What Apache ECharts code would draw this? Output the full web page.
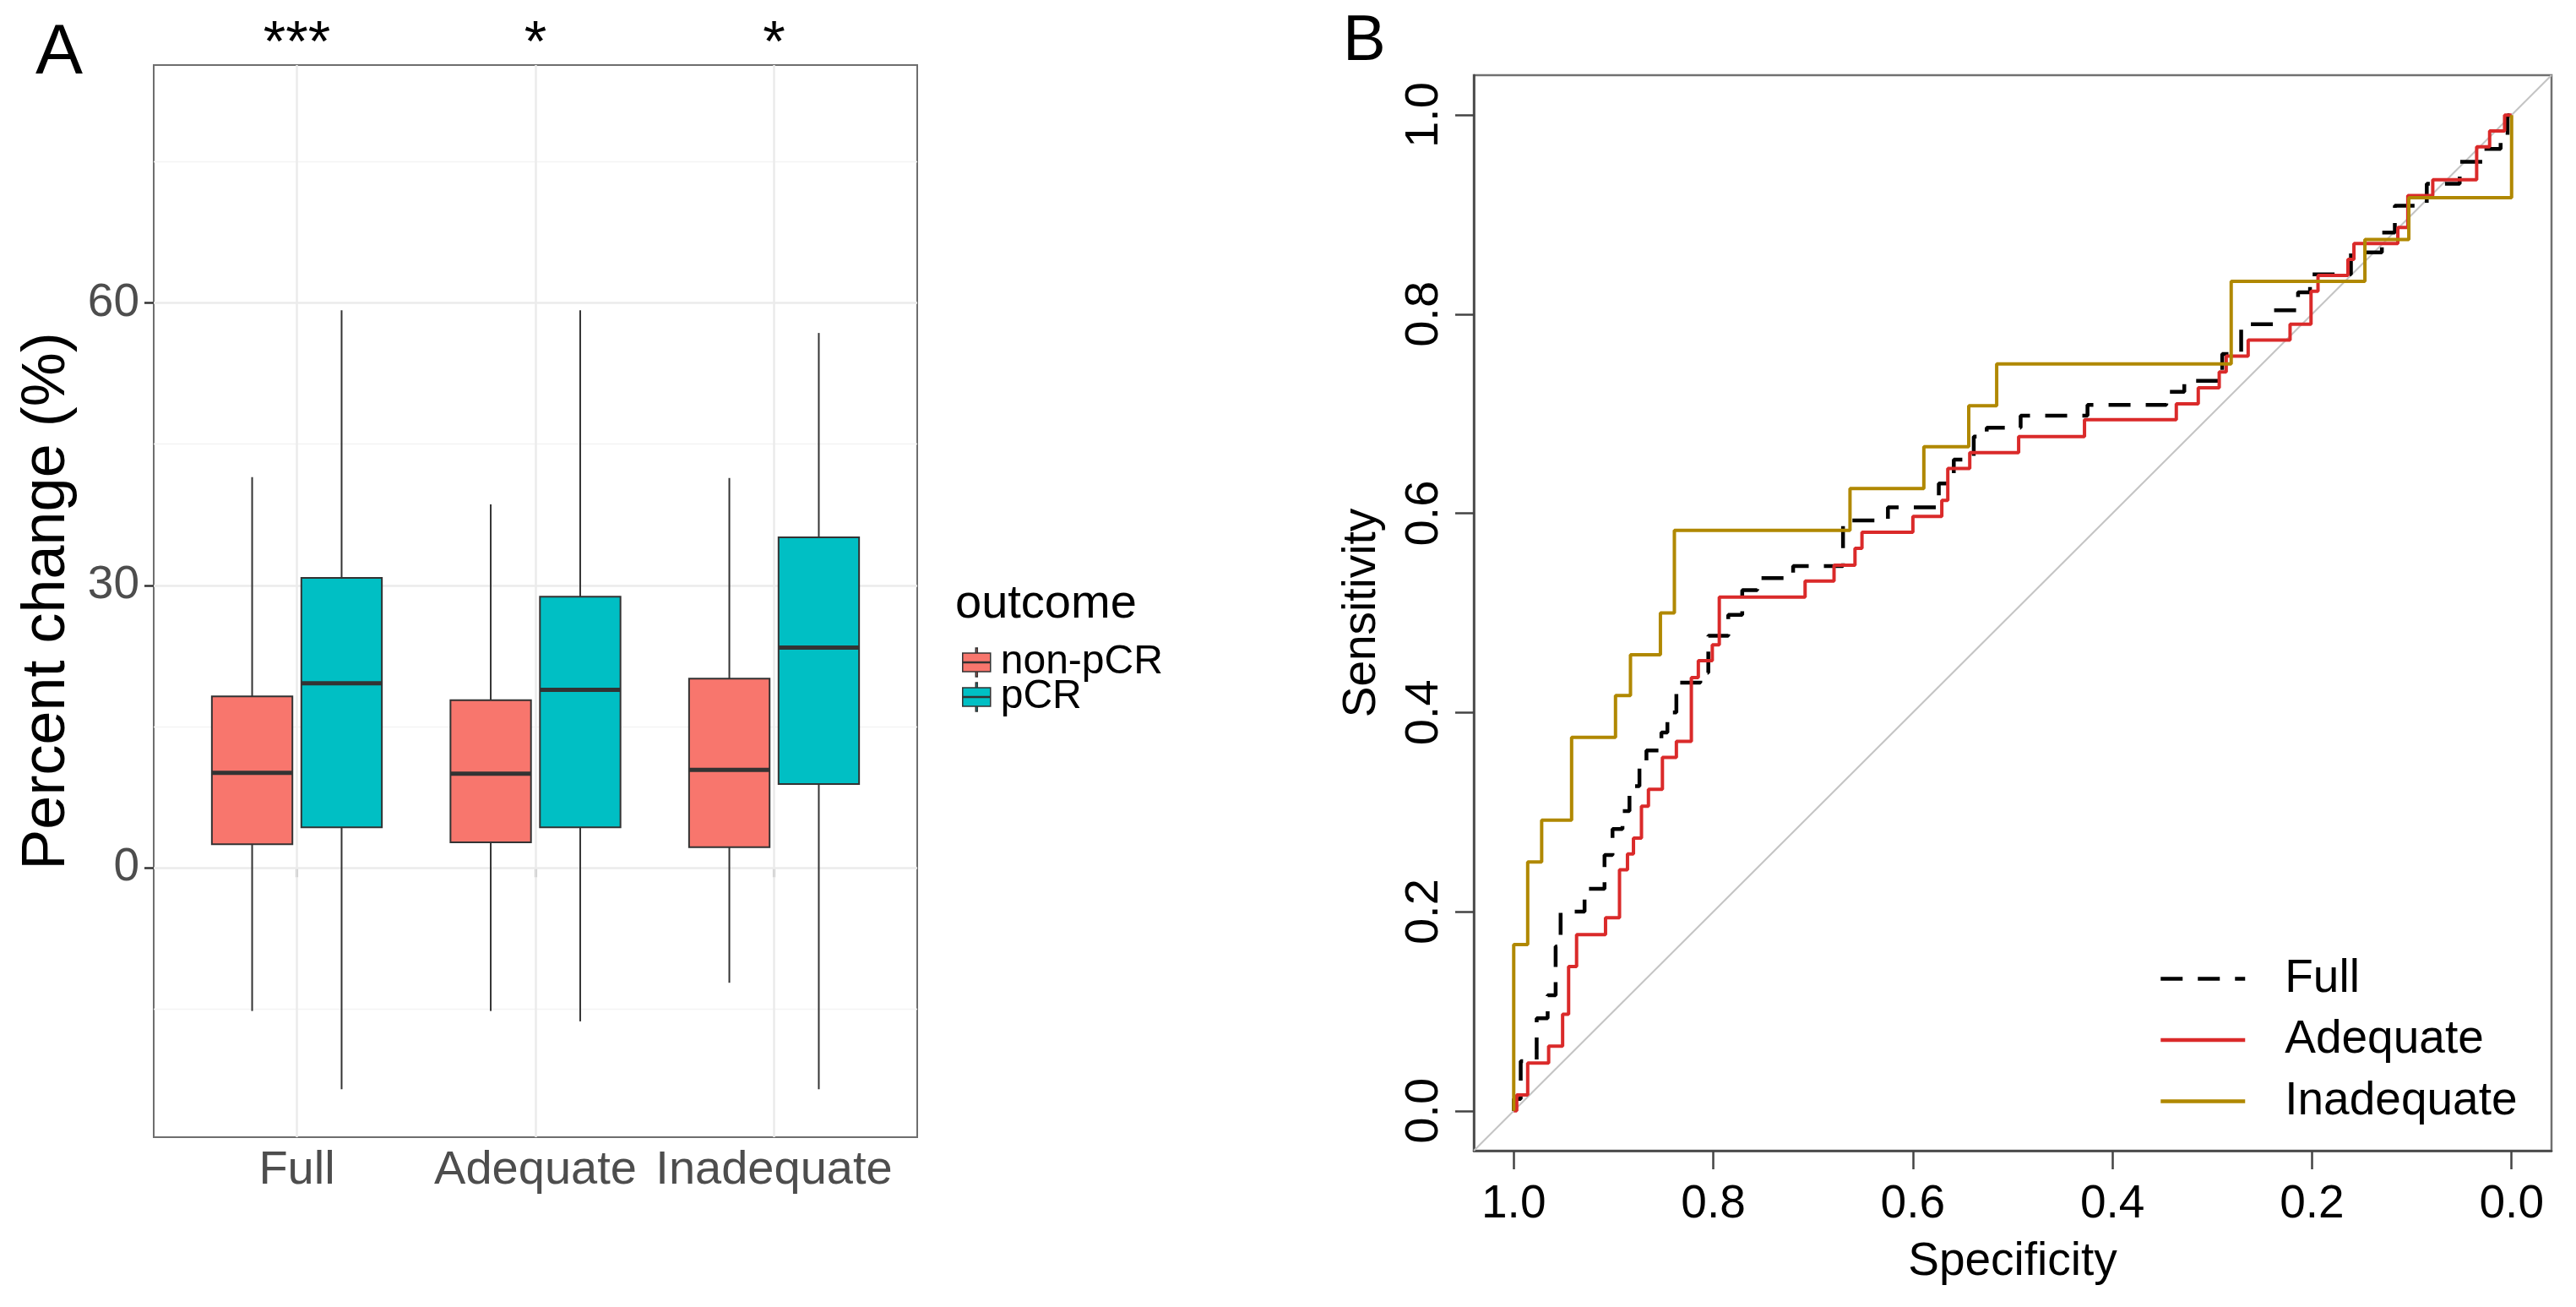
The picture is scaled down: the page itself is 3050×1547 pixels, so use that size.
<!DOCTYPE html>
<html>
<head>
<meta charset="utf-8">
<title>Percent change boxplot and ROC curves</title>
<script src="https://cdn.jsdelivr.net/npm/echarts@6/dist/echarts.min.js"></script>
<style>
  html, body { margin: 0; padding: 0; background: #fff; }
  #main { width: 3050px; height: 1547px; }
</style>
</head>
<body>
<div id="main"></div>
<script>
// ---- panel A: percent change by group and outcome ----
const groups = ['Full', 'Adequate', 'Inadequate'];
const stars = ['***', '*', '*'];
// [lower whisker, Q1, median, Q3, upper whisker]
const nonPcrStats = [
  [-15.2, 2.5, 10.1, 18.2, 41.5],
  [-15.2, 2.7, 10.0, 17.8, 38.6],
  [-12.2, 2.2, 10.4, 20.1, 41.4]
];
const pcrStats = [
  [-23.5, 4.3, 19.6, 30.8, 59.2],
  [-16.3, 4.3, 18.9, 28.8, 59.2],
  [-23.5, 8.9, 23.4, 35.1, 56.8]
];
const yMajor = [0, 30, 60];
const yMinor = [-15, 15, 45, 75];

// ---- panel B: ROC curves (specificity where the step is, sensitivity after it) ----
const specTicks = [0, 0.2, 0.4, 0.6, 0.8, 1.0];
const specFull = [1.0, 0.993, 0.977, 0.966, 0.958, 0.953, 0.929, 0.909, 0.901, 0.891, 0.884, 0.874, 0.867, 0.852, 0.846,
  0.837, 0.813, 0.805, 0.785, 0.771, 0.756, 0.72, 0.67, 0.625, 0.574, 0.559, 0.539, 0.526, 0.492, 0.425, 0.346, 0.328,
  0.29, 0.271, 0.239, 0.214, 0.202, 0.161, 0.13, 0.117, 0.085, 0.052, 0.028, 0.011, 0.004];
const sensFull = [0.012, 0.05, 0.093, 0.116, 0.165, 0.2, 0.223, 0.257, 0.283, 0.301, 0.326, 0.345, 0.362, 0.38, 0.40,
  0.43, 0.44, 0.477, 0.498, 0.523, 0.535, 0.547, 0.593, 0.606, 0.63, 0.654, 0.677, 0.686, 0.698, 0.709, 0.722, 0.733,
  0.76, 0.79, 0.804, 0.822, 0.84, 0.862, 0.882, 0.909, 0.931, 0.953, 0.966, 0.98, 1.0];
const specAdequate = [0.997, 0.986, 0.965, 0.951, 0.945, 0.937, 0.908, 0.894, 0.886, 0.880, 0.872, 0.865, 0.851, 0.837,
  0.822, 0.815, 0.801, 0.794, 0.708, 0.679, 0.658, 0.651, 0.600, 0.571, 0.565, 0.543, 0.494, 0.428, 0.336, 0.314, 0.293,
  0.286, 0.264, 0.222, 0.201, 0.194, 0.164, 0.158, 0.114, 0.104, 0.079, 0.035, 0.022, 0.007];
const sensAdequate = [0.016, 0.048, 0.065, 0.097, 0.145, 0.177, 0.194, 0.242, 0.258, 0.274, 0.306, 0.323, 0.355, 0.371,
  0.435, 0.452, 0.468, 0.516, 0.532, 0.548, 0.565, 0.581, 0.597, 0.613, 0.645, 0.661, 0.677, 0.694, 0.710, 0.726, 0.742,
  0.758, 0.774, 0.790, 0.823, 0.839, 0.855, 0.871, 0.887, 0.919, 0.935, 0.968, 0.984, 1.0];
const specInadequate = [1.0, 0.986, 0.972, 0.942, 0.898, 0.883, 0.853, 0.839, 0.663, 0.589, 0.544, 0.516, 0.281, 0.147, 0.103, 0.0];
const sensInadequate = [0.167, 0.25, 0.292, 0.375, 0.417, 0.458, 0.5, 0.583, 0.625, 0.667, 0.708, 0.75, 0.833, 0.875, 0.917, 1.0];

const FONT = "'Liberation Sans', Arial, Helvetica, sans-serif";
const BOX_W = 0.3375;
const DODGE = 0.1875;
const A_MIN = -28.6, A_MAX = 85.25;
const B_MIN = -0.04, B_MAX = 1.04;

// turn step positions into a staircase polyline starting at (1, 0)
function stepPath(spec, sens) {
  const pts = [[1, 0]];
  let prev = 0;
  spec.forEach((s, i) => {
    pts.push([s, prev]);
    pts.push([s, sens[i]]);
    prev = sens[i];
  });
  pts.push([0, prev]);
  return pts;
}

function boxData(stats, offset) {
  return stats.map((s, i) => [i + 1 + offset].concat(s));
}

function renderBox(params, api) {
  const x = api.value(0);
  const lo = api.coord([x, api.value(1)]);
  const q1 = api.coord([x, api.value(2)]);
  const md = api.coord([x, api.value(3)]);
  const q3 = api.coord([x, api.value(4)]);
  const hi = api.coord([x, api.value(5)]);
  const w = api.size([BOX_W, 0])[0];
  const edge = '#333333';
  return {
    type: 'group',
    children: [
      { type: 'line', shape: { x1: lo[0], y1: lo[1], x2: q1[0], y2: q1[1] }, style: { stroke: edge, lineWidth: 2 } },
      { type: 'line', shape: { x1: q3[0], y1: q3[1], x2: hi[0], y2: hi[1] }, style: { stroke: edge, lineWidth: 2 } },
      { type: 'rect', shape: { x: q3[0] - w / 2, y: q3[1], width: w, height: q1[1] - q3[1] },
        style: { fill: api.visual('color'), stroke: edge, lineWidth: 2 } },
      { type: 'line', shape: { x1: md[0] - w / 2, y1: md[1], x2: md[0] + w / 2, y2: md[1] },
        style: { stroke: edge, lineWidth: 5 } }
    ]
  };
}

const gridLines = [].concat(
  yMajor.map(v => ({ yAxis: v, lineStyle: { color: '#ebebeb', width: 2.5, type: 'solid' } })),
  yMinor.map(v => ({ yAxis: v, lineStyle: { color: '#f3f3f3', width: 1.3, type: 'solid' } })),
  groups.map((g, i) => ({ xAxis: i + 1, lineStyle: { color: '#ebebeb', width: 2.5, type: 'solid' } }))
);

const chart = echarts.init(document.getElementById('main'));

const option = {
  animation: false,
  backgroundColor: '#ffffff',
  textStyle: { fontFamily: FONT },
  grid: [
    { left: 182, top: 77, width: 904, height: 1269, show: true, borderColor: '#6e6e6e', borderWidth: 2,
      backgroundColor: 'transparent', outerBoundsMode: 'none' },
    { left: 1745, top: 89, width: 1276, height: 1273, show: true, borderColor: '#707070', borderWidth: 2.5,
      backgroundColor: 'transparent', outerBoundsMode: 'none' }
  ],
  xAxis: [
    {
      gridIndex: 0, type: 'value', min: 0.4, max: 3.6,
      axisLine: { show: false },
      axisTick: { show: true, customValues: [1, 2, 3], length: 11, lineStyle: { color: '#333', width: 2.5 } },
      axisLabel: { customValues: [1, 2, 3], formatter: v => groups[Math.round(v) - 1], fontSize: 56,
        color: '#4d4d4d', margin: 12 },
      splitLine: { show: false }
    },
    {
      gridIndex: 0, type: 'value', position: 'top', min: 0.4, max: 3.6,
      axisLine: { show: false }, axisTick: { show: false }, splitLine: { show: false },
      axisLabel: { customValues: [1, 2, 3], formatter: v => stars[Math.round(v) - 1], fontSize: 68,
        color: '#000', margin: -10 }
    },
    {
      gridIndex: 1, type: 'value', min: B_MIN, max: B_MAX, inverse: true,
      axisLine: { show: true, onZero: false, lineStyle: { color: '#444', width: 2.5 } },
      axisTick: { show: true, customValues: specTicks, length: 22, lineStyle: { color: '#444', width: 2.5 } },
      axisLabel: { customValues: specTicks, formatter: v => v.toFixed(1), fontSize: 55, color: '#000', margin: 36 },
      splitLine: { show: false },
      name: 'Specificity', nameLocation: 'middle', nameGap: 104, nameMoveOverlap: false,
      nameTextStyle: { fontSize: 55, color: '#000' }
    }
  ],
  yAxis: [
    {
      gridIndex: 0, type: 'value', min: A_MIN, max: A_MAX,
      axisLine: { show: false },
      axisTick: { show: true, customValues: yMajor, length: 11, lineStyle: { color: '#333', width: 2.5 } },
      axisLabel: { customValues: yMajor, fontSize: 55, color: '#4d4d4d', margin: 17 },
      splitLine: { show: false },
      name: 'Percent change (%)', nameLocation: 'middle', nameGap: 90, nameMoveOverlap: false,
      nameTextStyle: { fontSize: 72, color: '#000' }
    },
    {
      gridIndex: 1, type: 'value', min: B_MIN, max: B_MAX,
      axisLine: { show: true, onZero: false, lineStyle: { color: '#444', width: 2.5 } },
      axisTick: { show: true, customValues: specTicks, length: 22, lineStyle: { color: '#444', width: 2.5 } },
      axisLabel: { customValues: specTicks, formatter: v => v.toFixed(1), fontSize: 56, color: '#000',
        rotate: 90, margin: 30 },
      splitLine: { show: false },
      name: 'Sensitivity', nameLocation: 'middle', nameGap: 105, nameMoveOverlap: false,
      nameTextStyle: { fontSize: 55, color: '#000' }
    }
  ],
  legend: [
    {
      data: ['non-pCR', 'pCR'], orient: 'vertical', left: 1134, top: 755,
      itemWidth: 33, itemHeight: 34, itemGap: -7,
      icon: 'path://M15.5,0L17.5,0L17.5,6L15.5,6Z M0,6L33,6L33,28L0,28Z M15.5,28L17.5,28L17.5,34L15.5,34Z M0,16.5L33,16.5L33,17.5L0,17.5Z',
      itemStyle: { borderColor: '#333', borderWidth: 1.5 },
      textStyle: { fontSize: 48, color: '#000', padding: [0, 0, 0, 7] },
      selectedMode: false
    },
    {
      data: ['Full', 'Adequate', 'Inadequate'], orient: 'vertical', left: 2551, top: 1126,
      itemWidth: 100, itemHeight: 40, itemGap: 17.5,
      itemStyle: { color: 'transparent', borderColor: 'transparent', borderWidth: 0, opacity: 0 },
      lineStyle: { width: 4.5 },
      textStyle: { fontSize: 55, color: '#000', padding: [0, 0, 0, 42] },
      selectedMode: false
    }
  ],
  graphic: [
    { type: 'text', x: 42, y: 64, style: { text: 'A', font: '84px ' + FONT, fill: '#000', verticalAlign: 'middle' } },
    { type: 'text', x: 1590, y: 50, style: { text: 'B', font: '76px ' + FONT, fill: '#000', verticalAlign: 'middle' } },
    { type: 'text', x: 1131, y: 716, style: { text: 'outcome', font: '56px ' + FONT, fill: '#000', verticalAlign: 'middle' } }
  ],
  series: [
    {
      name: 'gridA', type: 'line', xAxisIndex: 0, yAxisIndex: 0, data: [], silent: true,
      markLine: { silent: true, symbol: ['none', 'none'], label: { show: false }, animation: false, z: 1,
        lineStyle: { type: 'solid' }, data: gridLines }
    },
    {
      name: 'non-pCR', type: 'custom', xAxisIndex: 0, yAxisIndex: 0, z: 3,
      itemStyle: { color: '#F8766D', borderColor: '#333' },
      encode: { x: 0, y: [1, 2, 3, 4, 5] },
      renderItem: renderBox, data: boxData(nonPcrStats, -DODGE)
    },
    {
      name: 'pCR', type: 'custom', xAxisIndex: 0, yAxisIndex: 0, z: 3,
      itemStyle: { color: '#00BFC4', borderColor: '#333' },
      encode: { x: 0, y: [1, 2, 3, 4, 5] },
      renderItem: renderBox, data: boxData(pcrStats, DODGE)
    },
    {
      name: 'chance', type: 'line', xAxisIndex: 2, yAxisIndex: 1, silent: true,
      symbol: 'none', lineStyle: { color: '#c4c4c4', width: 2 },
      data: [[B_MAX, B_MIN], [B_MIN, B_MAX]]
    },
    {
      name: 'Full', type: 'line', xAxisIndex: 2, yAxisIndex: 1, symbol: 'none', color: '#000000',
      lineStyle: { color: '#000000', width: 4.5, type: [26, 18] },
      data: stepPath(specFull, sensFull)
    },
    {
      name: 'Adequate', type: 'line', xAxisIndex: 2, yAxisIndex: 1, symbol: 'none', color: '#DA2A2A',
      lineStyle: { color: '#DA2A2A', width: 4 },
      data: stepPath(specAdequate, sensAdequate)
    },
    {
      name: 'Inadequate', type: 'line', xAxisIndex: 2, yAxisIndex: 1, symbol: 'none', color: '#B08800',
      lineStyle: { color: '#B08800', width: 4 },
      data: stepPath(specInadequate, sensInadequate)
    }
  ]
};

chart.setOption(option);
</script>
</body>
</html>
